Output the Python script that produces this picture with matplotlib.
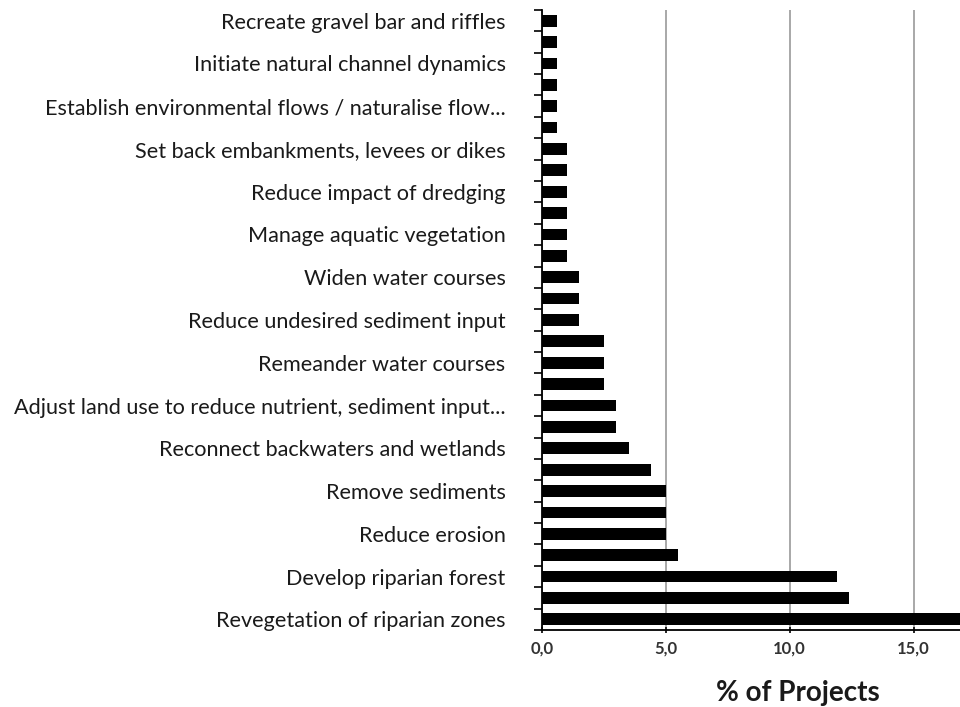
import numpy as np
import matplotlib
matplotlib.use('Agg')
import matplotlib.pyplot as plt
from matplotlib.ticker import FixedLocator

# categories from top to bottom (Excel shows only every other label)
labels = ["Recreate gravel bar and riffles", "",
          "Initiate natural channel dynamics", "",
          "Establish environmental flows / naturalise flow...", "",
          "Set back embankments, levees or dikes", "",
          "Reduce impact of dredging", "",
          "Manage aquatic vegetation", "",
          "Widen water courses", "",
          "Reduce undesired sediment input", "",
          "Remeander water courses", "",
          "Adjust land use to reduce nutrient, sediment input...", "",
          "Reconnect backwaters and wetlands", "",
          "Remove sediments", "",
          "Reduce erosion", "",
          "Develop riparian forest", "",
          "Revegetation of riparian zones"]

# % of projects, same order
values = [0.6, 0.6, 0.6, 0.6, 0.6, 0.6,
          1.0, 1.0, 1.0, 1.0, 1.0, 1.0,
          1.5, 1.5, 1.5,
          2.5, 2.5, 2.5,
          3.0, 3.0,
          3.5, 4.4,
          5.0, 5.0, 5.0,
          5.5, 11.9, 12.4, 17.5]

xticks = [0, 5, 10, 15]
xticklabels = ["0,0", "5,0", "10,0", "15,0"]

plt.rcParams['font.family'] = ['Lato', 'DejaVu Sans']

fig = plt.figure(figsize=(9.6, 7.07), dpi=100)
ax = fig.add_axes([0.5643, 0.1089, 0.4357, 0.877])

y = np.arange(len(values))
ax.barh(y, values, height=0.55, color='black', zorder=3)

ax.set_ylim(len(values) - 0.5, -0.5)
ax.set_xlim(0, 16.87)

# labels on category centres, tick marks on boundaries
ax.set_yticks(y[::2])
ax.set_yticklabels(labels[::2], fontsize=15.6, color='#1a1a1a')
ax.tick_params(axis='y', which='major', length=0, pad=26)
ax.yaxis.set_minor_locator(FixedLocator(np.arange(-0.5, len(values), 1.0)))
ax.tick_params(axis='y', which='minor', length=6, width=1.2, direction='out')

ax.set_xticks(xticks)
ax.set_xticklabels(xticklabels, fontsize=12, fontweight='bold', color='#333333')
ax.tick_params(axis='x', length=5, width=1.2, direction='inout', pad=5)

ax.grid(axis='x', color='#999999', linewidth=1.2, zorder=0)
for s in ['top', 'right']:
    ax.spines[s].set_visible(False)
for s in ['left', 'bottom']:
    ax.spines[s].set_linewidth(1.3)

ax.set_xlabel('% of Projects', fontsize=20, fontweight='bold', color='#1a1a1a')
ax.xaxis.set_label_coords(0.613, -0.08)

plt.savefig('out.png', dpi=100)
